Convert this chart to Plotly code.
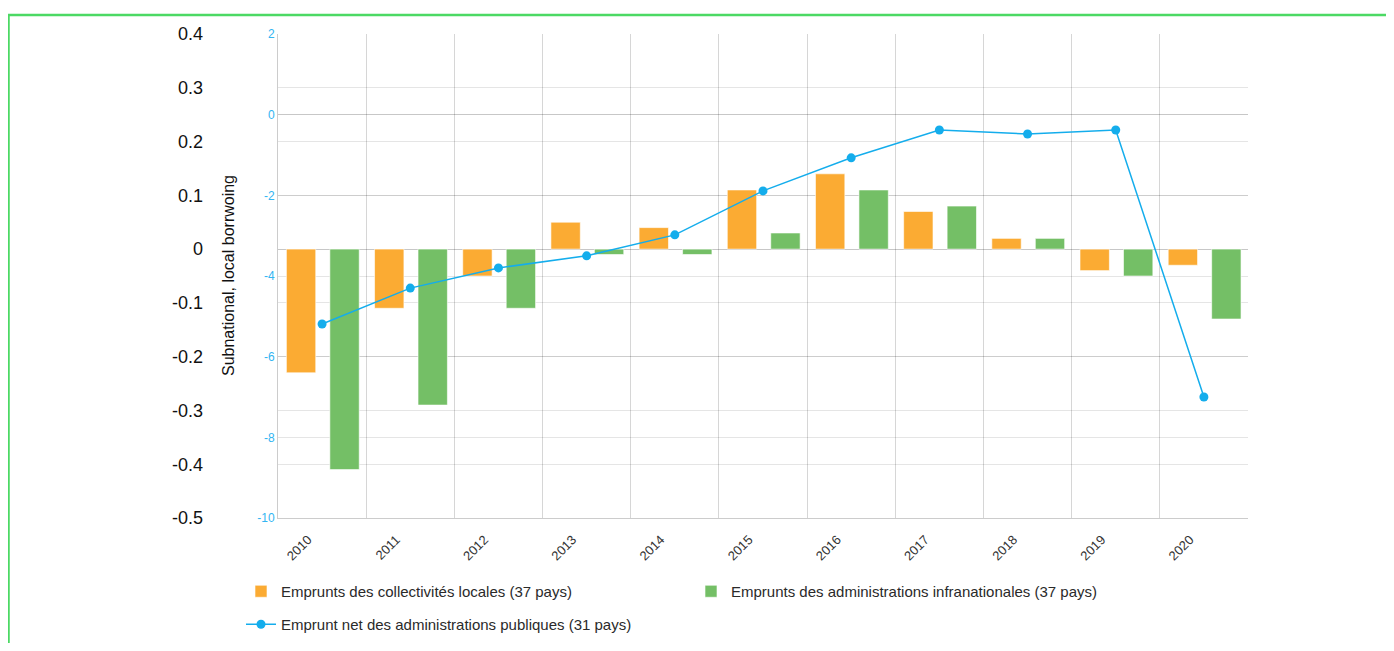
import plotly.graph_objects as go

years = ["2010", "2011", "2012", "2013", "2014", "2015", "2016", "2017", "2018", "2019", "2020"]
local_borrowing = [-0.23, -0.11, -0.05, 0.05, 0.04, 0.11, 0.14, 0.07, 0.02, -0.04, -0.03]
subnational_borrowing = [-0.41, -0.29, -0.11, -0.01, -0.01, 0.03, 0.11, 0.08, 0.02, -0.05, -0.13]
general_gov_borrowing = [-5.19, -4.30, -3.80, -3.50, -2.98, -1.89, -1.07, -0.38, -0.48, -0.38, -7.00]

left_tick_vals = [-0.5, -0.4, -0.3, -0.2, -0.1, 0, 0.1, 0.2, 0.3, 0.4]
left_tick_text = ["-0.5", "-0.4", "-0.3", "-0.2", "-0.1", "0", "0.1", "0.2", "0.3", "0.4"]
right_tick_vals = [-10, -8, -6, -4, -2, 0, 2]
right_tick_text = ["-10", "-8", "-6", "-4", "-2", "0", "2"]

name_local = "Emprunts des collectivités locales (37 pays)"
name_sub = "Emprunts des administrations infranationales (37 pays)"
name_gov = "Emprunt net des administrations publiques (31 pays)"

W, H = 1378, 635
OFF = 8


def fx(px):
    return (px - OFF) / W


def fy(py):
    return 1 - (py - OFF) / H


ORANGE = "#FBAB33"
GREEN = "#74BF66"
BLUE = "#14ADEC"
FONT = "Liberation Sans, Arial, sans-serif"
BAR_W = 0.333

fig = go.Figure()
fig.add_trace(go.Bar(
    x=years, y=local_borrowing, name=name_local, yaxis="y",
    width=BAR_W, offset=-0.405,
    marker=dict(color=ORANGE, line=dict(color="rgba(255,255,255,0.6)", width=1)),
    legend="legend",
))
fig.add_trace(go.Bar(
    x=years, y=subnational_borrowing, name=name_sub, yaxis="y",
    width=BAR_W, offset=0.088,
    marker=dict(color=GREEN, line=dict(color="rgba(255,255,255,0.6)", width=1)),
    legend="legend",
))
fig.add_trace(go.Scatter(
    x=years, y=general_gov_borrowing, name=name_gov, yaxis="y2",
    mode="lines+markers",
    line=dict(color=BLUE, width=1.5),
    marker=dict(color=BLUE, size=9),
    legend="legend2",
))

fig.update_layout(
    width=W, height=H,
    margin=dict(l=0, r=0, t=0, b=0, autoexpand=False),
    paper_bgcolor="white", plot_bgcolor="white",
    font=dict(family=FONT, color="#333"),
    barmode="group",
    xaxis=dict(
        domain=[fx(278), fx(1248)],
        type="category", range=[-0.5, len(years) - 0.5],
        tickson="boundaries",
        showgrid=True, gridcolor="rgba(0,0,0,0.16)",
        ticks="", tickangle=-45,
        ticklabelshift=-14, ticklabelstandoff=8,
        tickfont=dict(size=13, color="#333"),
        showline=True, linecolor="rgba(0,0,0,0.2)", linewidth=1,
    ),
    yaxis=dict(
        domain=[fy(518), fy(34)],
        range=[-0.5, 0.4], tickmode="array",
        tickvals=left_tick_vals, ticktext=left_tick_text,
        anchor="free", position=fx(203), side="left",
        showgrid=True, gridcolor="rgba(0,0,0,0.1)",
        zeroline=True, zerolinecolor="rgba(0,0,0,0.22)", zerolinewidth=1,
        ticks="", showline=False,
        tickfont=dict(size=18, color="#111"),
    ),
    yaxis2=dict(
        range=[-10, 2], tickmode="array",
        tickvals=right_tick_vals, ticktext=right_tick_text,
        overlaying="y", anchor="x", side="left",
        showgrid=True, gridcolor="rgba(0,0,0,0.1)",
        zeroline=True, zerolinecolor="rgba(0,0,0,0.22)", zerolinewidth=1,
        ticks="", showline=True, linecolor="rgba(0,0,0,0.2)", linewidth=1,
        tickfont=dict(size=12, color="#33B5F2"),
    ),
    legend=dict(
        orientation="h", x=fx(241), y=fy(575), xanchor="left", yanchor="top",
        entrywidth=405, entrywidthmode="pixels",
        font=dict(size=15, color="#2a2a2a"), bgcolor="rgba(0,0,0,0)",
    ),
    legend2=dict(
        orientation="h", x=fx(241), y=fy(608), xanchor="left", yanchor="top",
        font=dict(size=15, color="#2a2a2a"), bgcolor="rgba(0,0,0,0)",
    ),
    showlegend=True,
    annotations=[dict(
        text="Subnational, local borrwoing", textangle=-90,
        x=fx(228), y=fy(276), xref="paper", yref="paper",
        showarrow=False, font=dict(size=16, color="#111"),
        xanchor="center", yanchor="middle",
    )],
    shapes=[dict(
        type="rect", xref="paper", yref="paper",
        x0=fx(8.5), x1=fx(1500), y0=fy(700), y1=fy(15),
        line=dict(color="#4CD964", width=2.5), fillcolor="rgba(0,0,0,0)",
        layer="below",
    )],
)

fig.write_html("out.html")
